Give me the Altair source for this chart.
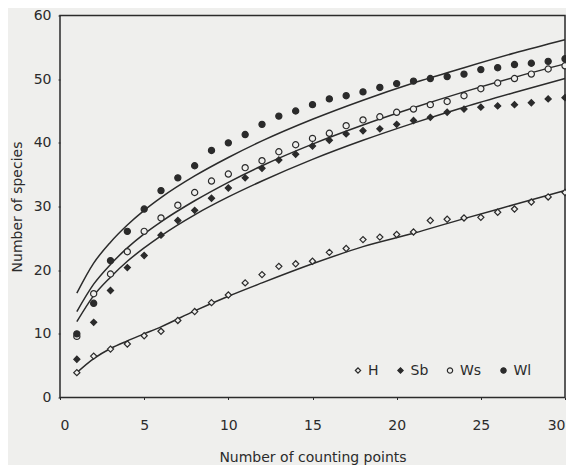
import altair as alt
import pandas as pd

# ---- data ----
counting_points = list(range(1, 31))
H = [3.9, 6.5, 7.6, 8.4, 9.7, 10.4, 12.1, 13.5, 14.9, 16.1,
     18.0, 19.3, 20.6, 21.0, 21.4, 22.8, 23.4, 24.8, 25.2, 25.6,
     26.0, 27.8, 28.0, 28.2, 28.3, 29.1, 29.6, 30.7, 31.5, 32.2]
Sb = [6.0, 11.8, 16.8, 20.4, 22.3, 25.5, 27.8, 29.4, 31.3, 32.9,
      34.5, 36.0, 37.3, 38.2, 39.5, 40.4, 41.4, 41.9, 42.2, 42.9,
      43.5, 44.0, 44.8, 45.3, 45.6, 45.8, 46.0, 46.3, 46.9, 47.1]
Ws = [9.6, 16.3, 19.4, 22.9, 26.1, 28.2, 30.2, 32.2, 34.0, 35.1,
      36.1, 37.2, 38.6, 39.7, 40.7, 41.5, 42.7, 43.6, 44.1, 44.8,
      45.3, 46.0, 46.5, 47.4, 48.5, 49.4, 50.1, 50.8, 51.6, 52.1]
Wl = [10.0, 14.8, 21.5, 26.1, 29.6, 32.5, 34.5, 36.4, 38.8, 40.0,
      41.3, 42.9, 44.2, 45.0, 46.0, 46.9, 47.4, 48.0, 48.7, 49.3,
      49.7, 50.1, 50.4, 50.8, 51.5, 51.8, 52.3, 52.5, 52.8, 53.2]

# fitted curves
curve_x = [1, 2, 3, 4, 5, 6, 8, 10, 12, 15, 18, 21, 24, 27, 30]
fit_H = [3.9, 6.1, 7.7, 8.9, 10.0, 11.1, 13.6, 15.9, 18.0, 21.0, 23.7, 25.8, 28.1, 30.3, 32.5]
fit_Sb = [11.9, 16.0, 18.9, 21.4, 23.5, 25.4, 28.7, 31.5, 34.0, 37.4, 40.4, 43.1, 45.6, 47.9, 50.1]
fit_Ws = [13.5, 17.8, 20.9, 23.5, 25.7, 27.6, 30.9, 33.8, 36.4, 39.8, 42.8, 45.5, 48.0, 50.3, 52.4]
fit_Wl = [16.4, 21.1, 24.4, 27.1, 29.4, 31.4, 34.8, 37.7, 40.3, 43.7, 46.7, 49.4, 51.8, 54.1, 56.2]

series = ["H", "Sb", "Ws", "Wl"]
x_ticks = [0, 5, 10, 15, 20, 25, 30]
y_ticks = [0, 10, 20, 30, 40, 50, 60]

BG = "#efefed"
INK = "#2b2b2b"
FONT = "DejaVu Sans"

pts = pd.DataFrame({
    "x": counting_points * 4,
    "y": H + Sb + Ws + Wl,
    "s": sum([[s] * len(counting_points) for s in series], []),
})
fits = pd.DataFrame({
    "x": curve_x * 4,
    "y": fit_H + fit_Sb + fit_Ws + fit_Wl,
    "s": sum([[s] * len(curve_x) for s in series], []),
})

xscale = alt.Scale(domain=[0, 30], nice=False)
yscale = alt.Scale(domain=[0, 60], nice=False)

xaxis = alt.Axis(values=x_ticks, title="Number of counting points", grid=False,
                 domain=False, tickSize=2, labelPadding=19, titleY=67,
                 titleBaseline="bottom")
yaxis = alt.Axis(values=y_ticks, title="Number of species", grid=False,
                 domain=False, tickSize=2, labelPadding=7, titleX=-39,
                 titleBaseline="alphabetic")

lines = alt.Chart(fits).mark_line(color=INK, strokeWidth=1.5, interpolate="monotone").encode(
    x=alt.X("x:Q", scale=xscale, axis=xaxis),
    y=alt.Y("y:Q", scale=yscale, axis=yaxis),
    detail="s:N",
)

leg = alt.Legend(title=None)

points = alt.Chart(pts).mark_point(filled=True, strokeWidth=1.2,
                                   opacity=1, size=38).encode(
    x=alt.X("x:Q", scale=xscale),
    y=alt.Y("y:Q", scale=yscale),
    shape=alt.Shape("s:N", scale=alt.Scale(domain=series,
                    range=["diamond", "diamond", "circle", "circle"]), legend=leg),
    fill=alt.Fill("s:N", scale=alt.Scale(domain=series, range=[BG, INK, BG, INK]),
                  legend=leg),
    stroke=alt.Stroke("s:N", scale=alt.Scale(domain=series, range=[INK, INK, INK, INK]),
                      legend=leg),
)

chart = alt.layer(lines, points).properties(
    width=505, height=382,
    background=BG,
    autosize=alt.AutoSizeParams(type="none"),
    padding={"left": 52, "top": 7.5, "right": 1, "bottom": 67.5},
).configure_view(
    stroke=INK, strokeWidth=1.5, fill=BG,
).configure_axis(
    labelFont=FONT, titleFont=FONT, labelFontSize=14, titleFontSize=14,
    labelColor=INK, titleColor=INK, tickColor=INK, titleFontWeight="normal",
).configure_legend(
    orient="none", legendX=291, legendY=348, direction="horizontal",
    labelFont=FONT, labelFontSize=14, labelColor=INK,
    symbolSize=28, symbolStrokeWidth=1.2,
    columnPadding=14.5, labelOffset=3, padding=0,
)

chart.save("out.html", embed_options={"renderer": "svg", "actions": False})
